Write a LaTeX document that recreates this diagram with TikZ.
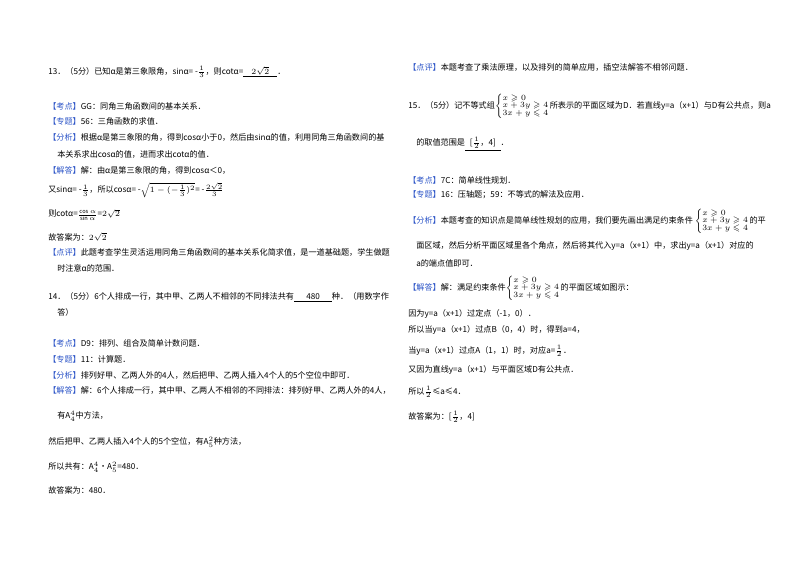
\documentclass[tikz,border=0pt]{standalone}
\usepackage{amsmath,amssymb}
\usepackage{fontspec}
\setmainfont{Noto Sans CJK SC}
\definecolor{tagblue}{RGB}{45,85,200}
\newcommand\bk[1]{{\color{tagblue}【#1】}}
\newcommand\sysq{$\left\{\renewcommand\arraystretch{0.75}\begin{array}{@{}l@{}}x\geqslant0\\x+3y\geqslant4\\3x+y\leqslant4\end{array}\right.$}
\newcommand\fr[2]{$\frac{#1}{#2}$}
\tikzset{txt/.style={anchor=west,inner sep=0pt,font=\fontsize{6.1}{7}\selectfont}}
\begin{document}
\begin{tikzpicture}[x=0.75pt,y=-0.75pt]
\useasboundingbox[fill=white] (0,0) rectangle (800,565);
% left column
\node[txt] (l1) at (48,72) {13．（5分）已知α是第三象限角，sinα= -\fr{1}{3}，则cotα=\underline{\hspace{1em}$2\sqrt2$\hspace{1em}}．};
\node[txt] (l2) at (48,106) {\bk{考点}GG：同角三角函数间的基本关系．};
\node[txt] (l3) at (48,121) {\bk{专题}56：三角函数的求值．};
\node[txt] (l4) at (48,137) {\bk{分析}根据α是第三象限的角，得到cosα小于0，然后由sinα的值，利用同角三角函数间的基};
\node[txt] (l5) at (57,154) {本关系求出cosα的值，进而求出cotα的值．};
\node[txt] (l6) at (48,170) {\bk{解答}解：由α是第三象限的角，得到cosα＜0，};
\node[txt] (l7) at (48,190) {又sinα= -\fr{1}{3}，所以cosα= -$\sqrt{1-(-\frac13)^2}$= -\fr{2\sqrt2}{3}};
\node[txt] (l8) at (48,215) {则cotα=$\frac{\cos\alpha}{\sin\alpha}$=$2\sqrt2$};
\node[txt] (l9) at (48,237) {故答案为：$2\sqrt2$};
\node[txt] (l10) at (48,252) {\bk{点评}此题考查学生灵活运用同角三角函数间的基本关系化简求值，是一道基础题，学生做题};
\node[txt] (l11) at (57,268) {时注意α的范围．};
\node[txt] (l12) at (48,297) {14．（5分）6个人排成一行，其中甲、乙两人不相邻的不同排法共有\underline{\hspace{1.5em}480\hspace{1.5em}}种．（用数字作};
\node[txt] (l13) at (57,312) {答）};
\node[txt] (l14) at (48,343) {\bk{考点}D9：排列、组合及简单计数问题．};
\node[txt] (l15) at (48,359) {\bk{专题}11：计算题．};
\node[txt] (l16) at (48,375) {\bk{分析}排列好甲、乙两人外的4人，然后把甲、乙两人插入4个人的5个空位中即可．};
\node[txt] (l17) at (48,390) {\bk{解答}解：6个人排成一行，其中甲、乙两人不相邻的不同排法：排列好甲、乙两人外的4人，};
\node[txt] (l18) at (57,416) {有$\mathrm{A}_4^4$中方法，};
\node[txt] (l19) at (48,442) {然后把甲、乙两人插入4个人的5个空位，有$\mathrm{A}_5^2$种方法，};
\node[txt] (l20) at (48,467) {所以共有：$\mathrm{A}_4^4$•$\mathrm{A}_5^2$=480．};
\node[txt] (l21) at (48,490) {故答案为：480．};
% right column
\node[txt] (r1) at (408,67) {\bk{点评}本题考查了乘法原理，以及排列的简单应用，插空法解答不相邻问题．};
\node[txt] (r2) at (408,106) {15．（5分）记不等式组\sysq 所表示的平面区域为D．若直线y=a（x+1）与D有公共点，则a};
\node[txt] (r3) at (416,144) {的取值范围是\underline{\hspace{0.6em}[\fr{1}{2}，4]\hspace{0.6em}}．};
\node[txt] (r4) at (408,180) {\bk{考点}7C：简单线性规划．};
\node[txt] (r5) at (408,195) {\bk{专题}16：压轴题；59：不等式的解法及应用．};
\node[txt] (r6) at (408,221) {\bk{分析}本题考查的知识点是简单线性规划的应用，我们要先画出满足约束条件 \sysq 的平};
\node[txt] (r7) at (416,246) {面区域，然后分析平面区域里各个角点，然后将其代入y=a（x+1）中，求出y=a（x+1）对应的};
\node[txt] (r8) at (416,263) {a的端点值即可．};
\node[txt] (r9) at (408,288) {\bk{解答}解：满足约束条件\sysq 的平面区域如图示：};
\node[txt] (r10) at (408,314) {因为y=a（x+1）过定点（-1，0）．};
\node[txt] (r11) at (408,330) {所以当y=a（x+1）过点B（0，4）时，得到a=4，};
\node[txt] (r12) at (408,351) {当y=a（x+1）过点A（1，1）时，对应a=\fr{1}{2}．};
\node[txt] (r13) at (408,370) {又因为直线y=a（x+1）与平面区域D有公共点．};
\node[txt] (r14) at (408,392) {所以\fr{1}{2}≤a≤4．};
\node[txt] (r15) at (408,417) {故答案为：[\fr{1}{2}，4]};
\end{tikzpicture}
\end{document}
